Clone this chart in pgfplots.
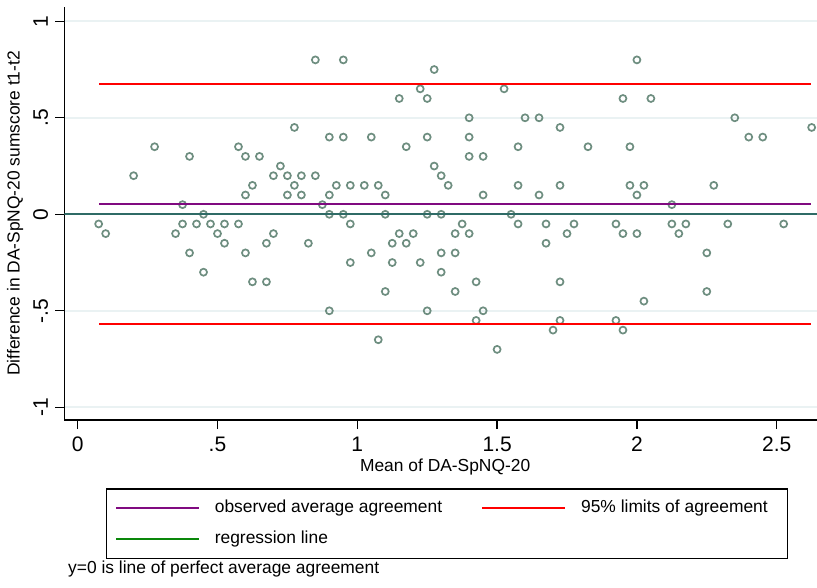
\documentclass[border=0pt]{standalone}
\usepackage{fontspec}
\setmainfont{Liberation Sans}
\usepackage{pgfplots}
\pgfplotsset{compat=1.18}
\definecolor{mk}{RGB}{110,142,128}
\definecolor{purp}{RGB}{128,10,128}
\definecolor{teal2}{RGB}{47,107,102}
\definecolor{grn}{RGB}{10,135,10}
\definecolor{gridc}{RGB}{234,242,243}
\begin{document}
\begin{tikzpicture}
\begin{axis}[
  at={(64.3pt,167pt)}, anchor=south west,
  scale only axis, width=752.7pt, height=413.3pt,
  xmin=-0.0479, xmax=2.6441, ymin=-1.0658, ymax=1.0756,
  axis x line*=bottom, axis y line*=left,
  axis line style={line width=1.3pt, black},
  tick align=outside, major tick length=9pt,
  tick style={line width=1.3pt, black},
  xtick={0,0.5,1,1.5,2,2.5}, xticklabels={0,.5,1,1.5,2,2.5},
  ytick={-1,-0.5,0,0.5,1}, yticklabels={-1,-.5,0,.5,1},
  ymajorgrids, grid style={gridc, line width=2pt},
  /pgf/number format/assume math mode=true,
  tick label style={font=\fontsize{21}{21}\selectfont},
  xticklabel style={anchor=base, inner sep=0pt, yshift=-22pt},
  yticklabel style={xshift=-7.3pt, rotate=90, anchor=base, inner sep=0pt},
  xlabel={Mean of DA-SpNQ-20},
  ylabel={Difference in DA-SpNQ-20 sumscore t1-t2},
  label style={font=\fontsize{17.4}{20}\selectfont},
  xlabel style={at={(axis description cs:0.506,-0.1234)}, anchor=base, inner sep=0pt},
  ylabel style={at={(axis description cs:-0.0595,0.5)}, anchor=base, inner sep=0pt},
  clip mode=individual,
  legend columns=2, legend cell align=left,
  legend style={at={(axis description cs:0.055,-0.1653)}, anchor=north west,
    draw=black, line width=1.3pt, inner xsep=9pt, inner ysep=11pt,
    font=\fontsize{17.4}{20}\selectfont, column sep=0pt, row sep=14.8pt,
    nodes={inner sep=0pt, text height=12.5pt, text depth=3.7pt}},
  legend image code/.code={\draw[#1] (0pt,0pt) -- (82.3pt,0pt); \path (97.5pt,0pt);},
]
\addplot[only marks, mark=o, mark size=3.5pt, mark options={draw=mk, line width=1.7pt}, forget plot]
table[row sep=\\] {
x y\\
0.85 0.80\\ 0.95 0.80\\ 2.00 0.80\\
1.275 0.75\\
1.225 0.65\\ 1.525 0.65\\
1.15 0.60\\ 1.25 0.60\\ 1.95 0.60\\ 2.05 0.60\\
1.40 0.50\\ 1.60 0.50\\ 1.65 0.50\\ 2.35 0.50\\
0.775 0.45\\ 1.725 0.45\\ 2.625 0.45\\
0.90 0.40\\ 0.95 0.40\\ 1.05 0.40\\ 1.25 0.40\\ 1.40 0.40\\ 2.40 0.40\\ 2.45 0.40\\
0.275 0.35\\ 0.575 0.35\\ 1.175 0.35\\ 1.575 0.35\\ 1.825 0.35\\ 1.975 0.35\\
0.40 0.30\\ 0.60 0.30\\ 0.65 0.30\\ 1.40 0.30\\ 1.45 0.30\\
0.725 0.25\\ 1.275 0.25\\
0.20 0.20\\ 0.70 0.20\\ 0.75 0.20\\ 0.80 0.20\\ 0.85 0.20\\ 1.30 0.20\\
0.625 0.15\\ 0.775 0.15\\ 0.925 0.15\\ 0.975 0.15\\ 1.025 0.15\\ 1.075 0.15\\ 1.325 0.15\\ 1.575 0.15\\ 1.725 0.15\\ 1.975 0.15\\ 2.025 0.15\\ 2.275 0.15\\
0.60 0.10\\ 0.75 0.10\\ 0.80 0.10\\ 0.90 0.10\\ 1.10 0.10\\ 1.45 0.10\\ 1.65 0.10\\ 2.00 0.10\\
0.375 0.05\\ 0.875 0.05\\ 2.125 0.05\\
0.45 0\\ 0.90 0\\ 0.95 0\\ 1.10 0\\ 1.25 0\\ 1.30 0\\ 1.55 0\\
0.075 -0.05\\ 0.375 -0.05\\ 0.425 -0.05\\ 0.475 -0.05\\ 0.525 -0.05\\ 0.575 -0.05\\ 0.975 -0.05\\ 1.375 -0.05\\ 1.575 -0.05\\ 1.675 -0.05\\ 1.775 -0.05\\ 1.925 -0.05\\ 2.125 -0.05\\ 2.175 -0.05\\ 2.325 -0.05\\ 2.525 -0.05\\
0.10 -0.10\\ 0.35 -0.10\\ 0.50 -0.10\\ 0.70 -0.10\\ 1.15 -0.10\\ 1.20 -0.10\\ 1.35 -0.10\\ 1.40 -0.10\\ 1.75 -0.10\\ 1.95 -0.10\\ 2.00 -0.10\\ 2.15 -0.10\\
0.525 -0.15\\ 0.675 -0.15\\ 0.825 -0.15\\ 1.125 -0.15\\ 1.175 -0.15\\ 1.675 -0.15\\
0.40 -0.20\\ 0.60 -0.20\\ 1.05 -0.20\\ 1.30 -0.20\\ 1.35 -0.20\\ 2.25 -0.20\\
0.975 -0.25\\ 1.125 -0.25\\ 1.225 -0.25\\
0.45 -0.30\\ 1.30 -0.30\\
0.625 -0.35\\ 0.675 -0.35\\ 1.425 -0.35\\ 1.725 -0.35\\
1.10 -0.40\\ 1.35 -0.40\\ 2.25 -0.40\\
2.025 -0.45\\
0.90 -0.50\\ 1.25 -0.50\\ 1.45 -0.50\\
1.425 -0.55\\ 1.725 -0.55\\ 1.925 -0.55\\
1.70 -0.60\\ 1.95 -0.60\\
1.075 -0.65\\
1.50 -0.70\\
};
\addplot[teal2, line width=2.3pt, forget plot] coordinates {(-0.0479,0) (2.6441,0)};
\addplot[purp, line width=1.8pt] coordinates {(0.077,0.053) (2.623,0.053)};
\addlegendentry{\makebox[266.5pt][l]{observed average agreement}}
\addplot[red, line width=2.3pt] coordinates {(0.077,0.674) (2.623,0.674)};
\addlegendentry{\makebox[197.3pt][l]{95\% limits of agreement}}
\addplot[red, line width=2.3pt, forget plot] coordinates {(0.077,-0.568) (2.623,-0.568)};
\addlegendimage{grn, line width=2pt}
\addlegendentry{regression line}
\end{axis}
\node[anchor=base west, inner sep=0pt, font=\fontsize{17.4}{20}\selectfont] at (68pt,13.5pt) {y=0 is line of perfect average agreement};
\pgfresetboundingbox
\path[use as bounding box] (0pt,0pt) rectangle (817pt,587pt);
\end{tikzpicture}
\end{document}
